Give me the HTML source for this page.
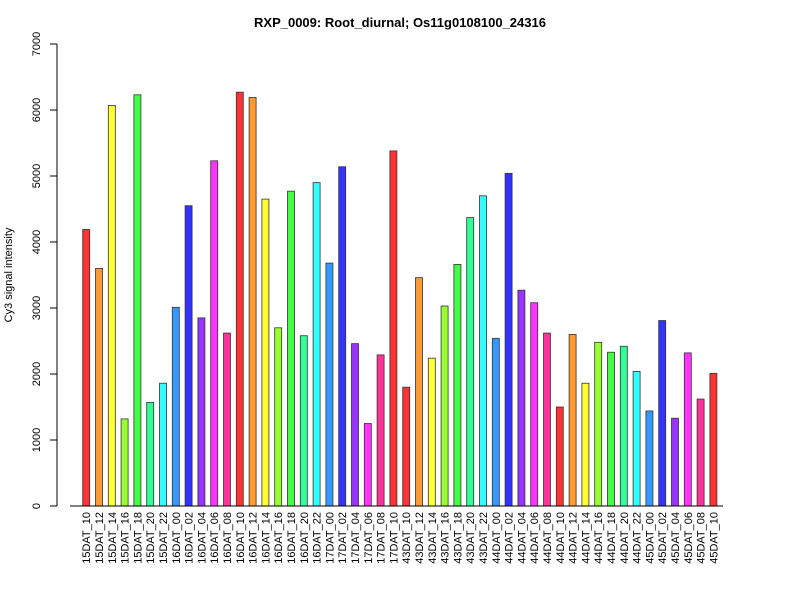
<!DOCTYPE html>
<html><head><meta charset="utf-8"><style>
body{margin:0;background:#fff}
svg{font-family:"Liberation Sans",Arial,sans-serif}
</style></head><body>
<svg id="chart" width="800" height="600" viewBox="0 0 800 600" xmlns="http://www.w3.org/2000/svg">
<text x="400" y="27" text-anchor="middle" font-size="13" font-weight="bold">RXP_0009: Root_diurnal; Os11g0108100_24316</text>
<text transform="translate(12,275) rotate(-90)" text-anchor="middle" font-size="11">Cy3 signal intensity</text>
<g id="yaxis"></g>
<g id="bars"></g>
<g id="xlabels"></g>
<line x1="70" y1="506" x2="723" y2="506" stroke="#000" stroke-width="1"/>
</svg>
<script>
const categories = ["15DAT_10","15DAT_12","15DAT_14","15DAT_16","15DAT_18","15DAT_20","15DAT_22",
"16DAT_00","16DAT_02","16DAT_04","16DAT_06","16DAT_08","16DAT_10","16DAT_12","16DAT_14","16DAT_16","16DAT_18","16DAT_20","16DAT_22",
"17DAT_00","17DAT_02","17DAT_04","17DAT_06","17DAT_08","17DAT_10",
"43DAT_10","43DAT_12","43DAT_14","43DAT_16","43DAT_18","43DAT_20","43DAT_22",
"44DAT_00","44DAT_02","44DAT_04","44DAT_06","44DAT_08","44DAT_10","44DAT_12","44DAT_14","44DAT_16","44DAT_18","44DAT_20","44DAT_22",
"45DAT_00","45DAT_02","45DAT_04","45DAT_06","45DAT_08","45DAT_10"];
const values = [4190,3600,6070,1320,6230,1570,1860,
3010,4550,2850,5230,2620,6270,6190,4650,2700,4770,2580,4900,
3680,5140,2460,1250,2290,5380,
1800,3460,2240,3030,3660,4370,4700,
2540,5040,3270,3080,2620,1500,2600,1860,2480,2330,2420,2040,
1440,2810,1330,2320,1620,2010];
const yTicks = [0,1000,2000,3000,4000,5000,6000,7000];
const hourColors = {"00":"#3399FF","02":"#3333FF","04":"#9933FF","06":"#FF33FF","08":"#FF3399","10":"#FF3333","12":"#FF9933","14":"#FFFF33","16":"#99FF33","18":"#44FF44","20":"#33FF99","22":"#33FFFF"};
const NS="http://www.w3.org/2000/svg";
const y0=506, yTop=44, yMax=7000;
function yScale(v){return y0-(v/yMax)*(y0-yTop);}
function xScale(i){return 82.7+i*12.8;}
const bw=7;
const ya=document.getElementById('yaxis');
let l=document.createElementNS(NS,'line');


l.setAttribute('x1',57);l.setAttribute('x2',57);l.setAttribute('y1',yScale(0));l.setAttribute('y2',yScale(yMax));l.setAttribute('stroke','#000');ya.appendChild(l);
yTicks.forEach(t=>{
  const y=yScale(t);
  const tk=document.createElementNS(NS,'line');
  
  
  tk.setAttribute('x1',50);tk.setAttribute('x2',57);tk.setAttribute('y1',y);tk.setAttribute('y2',y);tk.setAttribute('stroke','#000');ya.appendChild(tk);
  const tx=document.createElementNS(NS,'text');
  
  
  tx.setAttribute('transform','translate(40,'+y+') rotate(-90)');tx.setAttribute('text-anchor','middle');tx.setAttribute('font-size','11');tx.textContent=t;ya.appendChild(tx);
});
const bg=document.getElementById('bars'), xl=document.getElementById('xlabels');
categories.forEach((c,i)=>{
  const x=xScale(i), y=yScale(values[i]);
  const r=document.createElementNS(NS,'rect');
  
  
  r.setAttribute('x',x);r.setAttribute('y',y);r.setAttribute('width',bw);r.setAttribute('height',y0-y);
  r.setAttribute('fill',hourColors[c.slice(-2)]);r.setAttribute('stroke','#333');r.setAttribute('stroke-width','0.8');
  bg.appendChild(r);
  const t=document.createElementNS(NS,'text');
  
  
  t.setAttribute('transform','translate('+(x+bw/2+4)+',512) rotate(-90)');t.setAttribute('text-anchor','end');t.setAttribute('font-size','11');t.textContent=c;
  xl.appendChild(t);
});
</script>
</body></html>
